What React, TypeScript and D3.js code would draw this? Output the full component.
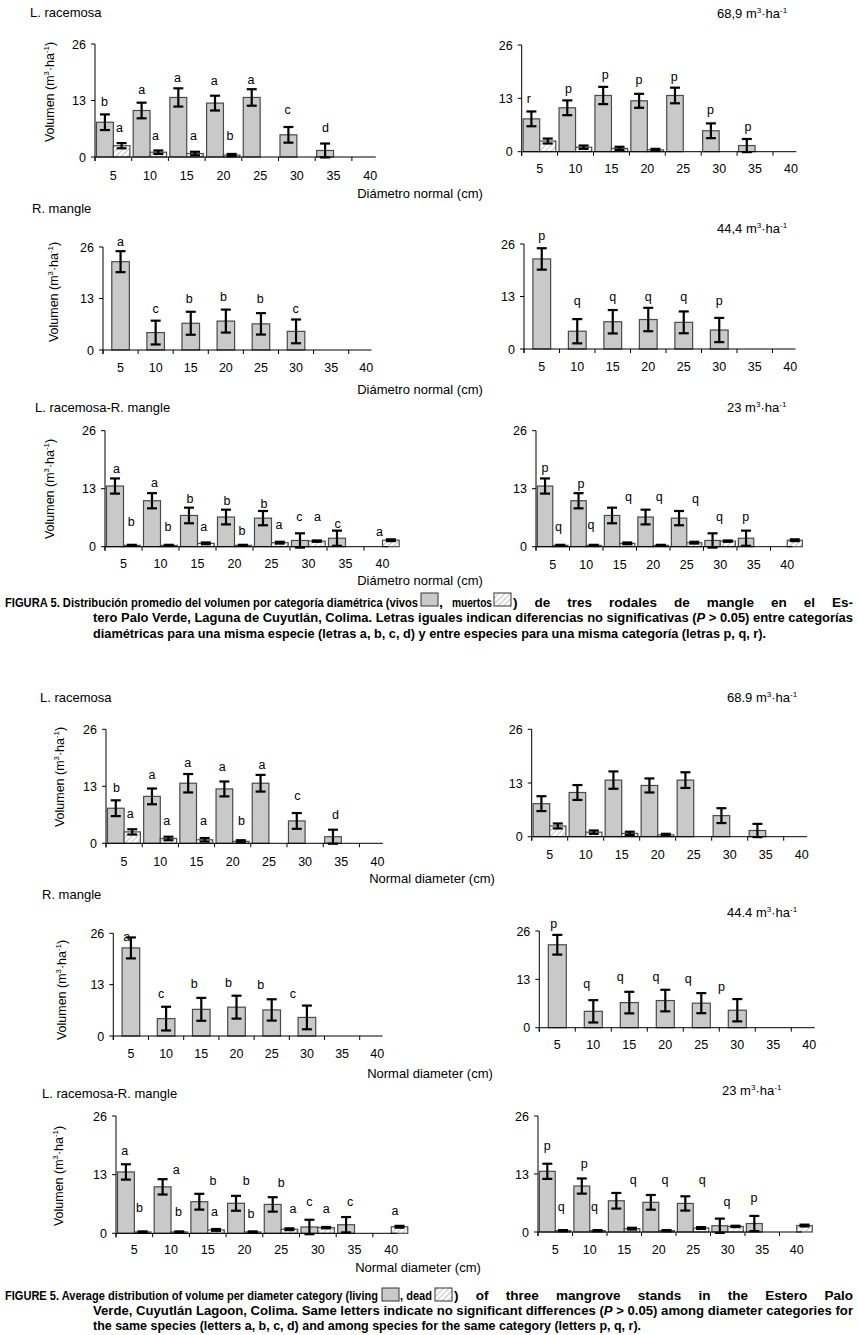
import React, { useLayoutEffect, useRef, useState } from 'react'
import * as d3 from 'd3'

// diameter categories (cm)
const categories = ['5', '10', '15', '20', '25', '30', '35', '40']
const yTicks = [0, 13, 26]

// L. racemosa (m3/ha)
const lrLive = [8.0, 10.7, 13.7, 12.4, 13.7, 5.1, 1.5, null]
const lrLiveErr = [1.8, 1.8, 2.1, 1.7, 1.9, 1.8, 1.6, null]
const lrDead = [2.6, 1.1, 0.8, 0.45, null, null, null, null]
const lrDeadErr = [0.6, 0.4, 0.4, 0.25, null, null, null, null]

// R. mangle
const rmLive = [22.3, 4.4, 6.75, 7.3, 6.6, 4.7, null, null]
const rmLiveErr = [2.65, 3.0, 2.9, 2.9, 2.7, 3.0, null, null]

// L. racemosa-R. mangle
const mxLive = [13.6, 10.3, 7.0, 6.65, 6.4, 1.4, 1.9, null]
const mxLiveErr = [1.7, 1.7, 1.75, 1.65, 1.6, 1.6, 1.7, null]
const mxDead = [0.3, 0.3, 0.75, 0.3, 0.9, 1.25, null, 1.45]
const mxDeadErr = [0.12, 0.12, 0.2, 0.12, 0.2, 0.15, null, 0.2]

// significance letters: [category, place in band, value, letter]
type Letter = [string, number, number, string]

const lettersLrEs: Letter[] = [['5', 0.26, 12.8, 'b'], ['5', 0.67, 6.7, 'a'], ['10', 0.27, 15.5, 'a'], ['10', 0.65, 5.0, 'a'], ['15', 0.25, 18.4, 'a'], ['15', 0.68, 5.0, 'a'], ['20', 0.25, 17.6, 'a'], ['20', 0.68, 5.0, 'b'], ['25', 0.25, 17.8, 'a'], ['30', 0.25, 10.9, 'c'], ['35', 0.28, 6.7, 'd']]
const lettersLrStandEs: Letter[] = [['5', 0.2, 13.0, 'r'], ['10', 0.3, 15.4, 'p'], ['15', 0.33, 18.9, 'p'], ['20', 0.27, 17.7, 'p'], ['25', 0.25, 18.4, 'p'], ['30', 0.26, 10.4, 'p'], ['35', 0.3, 6.1, 'p']]
const lettersRmEs: Letter[] = [['5', 0.5, 27.3, 'a'], ['10', 0.5, 10.5, 'c'], ['15', 0.46, 12.9, 'b'], ['20', 0.43, 13.5, 'b'], ['25', 0.48, 13.1, 'b'], ['30', 0.49, 10.5, 'c']]
const lettersRmStandEs: Letter[] = [['5', 0.5, 28, 'p'], ['10', 0.5, 12.1, 'q'], ['15', 0.5, 13.1, 'q'], ['20', 0.5, 13.1, 'q'], ['25', 0.5, 13.1, 'q'], ['30', 0.5, 12.1, 'p']]
const lettersMxEs: Letter[] = [['5', 0.31, 17.6, 'a'], ['5', 0.71, 5.6, 'b'], ['10', 0.34, 14.3, 'a'], ['10', 0.7, 4.6, 'b'], ['15', 0.3, 10.8, 'b'], ['15', 0.67, 4.6, 'a'], ['20', 0.3, 10.3, 'b'], ['20', 0.7, 3.7, 'b'], ['25', 0.3, 9.6, 'b'], ['25', 0.7, 4.9, 'a'], ['30', 0.25, 6.7, 'c'], ['30', 0.74, 6.7, 'a'], ['35', 0.29, 5.1, 'c'], ['40', 0.42, 3.4, 'a']]
const lettersMxStandEs: Letter[] = [['5', 0.27, 17.8, 'p'], ['5', 0.67, 4.5, 'q'], ['10', 0.34, 14.2, 'p'], ['10', 0.64, 4.9, 'q'], ['15', 0.76, 11.2, 'q'], ['20', 0.68, 11.2, 'q'], ['25', 0.76, 10.8, 'q'], ['30', 0.48, 6.7, 'q'], ['35', 0.26, 6.7, 'p']]

const lettersLrEn: Letter[] = [['5', 0.29, 12.8, 'b'], ['5', 0.67, 6.7, 'a'], ['10', 0.27, 15.6, 'a'], ['10', 0.68, 5.2, 'a'], ['15', 0.26, 18.5, 'a'], ['15', 0.69, 5.2, 'a'], ['20', 0.21, 17.6, 'a'], ['20', 0.74, 5.2, 'b'], ['25', 0.31, 17.9, 'a'], ['30', 0.29, 10.8, 'c'], ['35', 0.34, 6.6, 'd']]
const lettersRmEn: Letter[] = [['5', 0.38, 25.1, 'a'], ['10', 0.36, 10.8, 'c'], ['15', 0.3, 13.2, 'b'], ['20', 0.27, 13.6, 'b'], ['25', 0.19, 13.1, 'b'], ['30', 0.1, 10.8, 'c']]
const lettersRmStandEn: Letter[] = [['5', 0.4, 28.1, 'p'], ['10', 0.32, 11.9, 'q'], ['15', 0.25, 13.7, 'q'], ['20', 0.24, 13.9, 'q'], ['25', 0.14, 13.3, 'q'], ['30', 0.06, 11.2, 'p']]
const lettersMxEn: Letter[] = [['5', 0.24, 18.3, 'a'], ['5', 0.64, 5.8, 'b'], ['10', 0.64, 14.2, 'a'], ['10', 0.7, 4.8, 'b'], ['15', 0.64, 11.7, 'b'], ['15', 0.68, 4.8, 'a'], ['20', 0.55, 11.7, 'b'], ['20', 0.68, 4.4, 'b'], ['25', 0.5, 11.2, 'b'], ['25', 0.82, 5.5, 'a'], ['30', 0.27, 7.0, 'c'], ['30', 0.73, 5.5, 'a'], ['35', 0.38, 7.0, 'c'], ['40', 0.6, 5.0, 'a']]
const lettersMxStandEn: Letter[] = [['5', 0.27, 19.5, 'p'], ['5', 0.67, 5.7, 'q'], ['10', 0.34, 15.4, 'p'], ['10', 0.64, 5.7, 'q'], ['15', 0.76, 11.8, 'q'], ['20', 0.68, 11.8, 'q'], ['25', 0.76, 11.8, 'q'], ['30', 0.48, 6.8, 'q'], ['35', 0.26, 7.7, 'p']]

const FONT = "'Liberation Sans', Arial, sans-serif"
const CAPTION_FONT = "'Liberation Sans Narrow', 'Liberation Sans', Arial, sans-serif"
const LIVE_FILL = '#c9c9c9'
const BAR_STROKE = '#4a4a4a'

type Val = number | null

interface Layout { x: number; y0: number; y26: number; step: number; labelY: number }

interface PanelProps {
  lay: Layout
  live: Val[]
  liveErr: Val[]
  dead?: Val[]
  deadErr?: Val[]
  letters: Letter[]
}

const ErrorBar = ({ cx, v, e, y }: { cx: number; v: number; e: number; y: d3.ScaleLinear<number, number> }) => (
  <g stroke="#000" strokeWidth={2.2}>
    <line x1={cx} x2={cx} y1={y(v - e)} y2={y(v + e)} />
    <line x1={cx - 5} x2={cx + 5} y1={y(v - e)} y2={y(v - e)} />
    <line x1={cx - 5} x2={cx + 5} y1={y(v + e)} y2={y(v + e)} />
  </g>
)

const Panel = ({ lay, live, liveErr, dead, deadErr, letters }: PanelProps) => {
  const x = d3.scaleBand<string>().domain(categories).range([lay.x, lay.x + lay.step * categories.length])
  const y = d3.scaleLinear().domain([0, 26]).range([lay.y0, lay.y26])
  const bw = x.bandwidth()
  const axisEnd = lay.x + bw * 7.65
  const paired = !!dead

  // living bar slot and dead bar slot inside each band
  const liveX = (c: string) => (x(c) as number) + (paired ? 0.04 : 0.25) * bw
  const liveW = (paired ? 0.46 : 0.5) * bw
  const deadX = (c: string) => (x(c) as number) + 0.5 * bw
  const deadW = 0.45 * bw

  return (
    <g fontFamily={FONT}>
      {categories.map((c, i) => {
        const v = live[i]
        if (v == null) return null
        return <rect key={'l' + c} x={liveX(c)} y={y(v)} width={liveW} height={y(0) - y(v)}
          fill={LIVE_FILL} stroke={BAR_STROKE} strokeWidth={1.2} />
      })}
      {dead && categories.map((c, i) => {
        const v = dead[i]
        if (v == null) return null
        return <rect key={'d' + c} x={deadX(c)} y={y(v)} width={deadW} height={y(0) - y(v)}
          fill="url(#hatch)" stroke={BAR_STROKE} strokeWidth={1.2} />
      })}
      {categories.map((c, i) => {
        const v = live[i], e = liveErr[i]
        if (v == null || e == null) return null
        return <ErrorBar key={'le' + c} cx={liveX(c) + liveW / 2} v={v} e={e} y={y} />
      })}
      {dead && deadErr && categories.map((c, i) => {
        const v = dead[i], e = deadErr[i]
        if (v == null || e == null) return null
        return <ErrorBar key={'de' + c} cx={deadX(c) + deadW / 2} v={v} e={e} y={y} />
      })}

      {/* axes */}
      <line x1={lay.x} x2={lay.x} y1={y(26)} y2={y(0) + 4} stroke="#000" strokeWidth={1} />
      <line x1={lay.x} x2={axisEnd} y1={y(0)} y2={y(0)} stroke="#000" strokeWidth={1} />
      {yTicks.map(t => (
        <g key={'yt' + t}>
          <line x1={lay.x - 4} x2={lay.x} y1={y(t)} y2={y(t)} stroke="#000" />
          <text x={lay.x - 9} y={y(t)} dy="0.36em" textAnchor="end" fontSize={12.5}>{t}</text>
        </g>
      ))}
      {categories.map(c => (
        <g key={'xt' + c}>
          <line x1={x(c)} x2={x(c)} y1={y(0)} y2={y(0) + 4} stroke="#000" />
          <text x={(x(c) as number) + bw / 2} y={lay.labelY} dy="0.36em" textAnchor="middle" fontSize={12.5}>{c}</text>
        </g>
      ))}

      {letters.map(([c, f, v, t], i) => (
        <text key={'lt' + i} x={(x(c) as number) + f * bw} y={y(v)} dy="0.36em" textAnchor="middle" fontSize={12.5}>{t}</text>
      ))}
    </g>
  )
}

const Unit = ({ size }: { size: number }) => (
  <>
    m<tspan fontSize={size * 0.62} dy={-size * 0.38}>3</tspan>
    <tspan dy={size * 0.38}>·ha</tspan>
    <tspan fontSize={size * 0.62} dy={-size * 0.38}>-1</tspan>
  </>
)

const YTitle = ({ cx, cy }: { cx: number; cy: number }) => (
  <text transform={`translate(${cx},${cy}) rotate(-90)`} textAnchor="middle" dy="0.36em" fontSize={12.5} fontFamily={FONT}>
    Volumen (<Unit size={12.5} /><tspan dy={12.5 * 0.38}>)</tspan>
  </text>
)

const Label = ({ x, y, size = 13, anchor = 'start', children }: { x: number; y: number; size?: number; anchor?: string; children: React.ReactNode }) => (
  <text x={x} y={y} dy="0.36em" fontSize={size} textAnchor={anchor} fontFamily={FONT}>{children}</text>
)

const Swatch = ({ x, y, dead }: { x: number; y: number; dead?: boolean }) => (
  <rect x={x} y={y} width={17} height={13} fill={dead ? 'url(#hatch)' : LIVE_FILL} stroke="#333" strokeWidth={1} />
)

// caption segment with forced width
const Seg = ({ x, y, w, children }: { x: number; y: number; w: number; children: React.ReactNode }) => (
  <text x={x} y={y} textLength={w} lengthAdjust="spacingAndGlyphs" fontFamily={CAPTION_FONT}
    fontWeight="bold" fontSize={13.5}>{children}</text>
)

// caption segment justified by widening the word gaps
const JustSeg = ({ x, y, w, children }: { x: number; y: number; w: number; children: string }) => {
  const ref = useRef<SVGTextElement>(null)
  const [ws, setWs] = useState(0)
  useLayoutEffect(() => {
    const el = ref.current
    if (!el) return
    const natural = el.getComputedTextLength()
    const gaps = (children.match(/ /g) || []).length
    if (gaps > 0) setWs((w - natural) / gaps)
  }, [])
  return (
    <text ref={ref} x={x} y={y} wordSpacing={ws} fontFamily={CAPTION_FONT} fontWeight="bold" fontSize={13.5}>{children}</text>
  )
}

const lay = {
  esLr: { x: 95, y0: 157, y26: 44, step: 36.7, labelY: 175 },
  esLrR: { x: 521.7, y0: 151.7, y26: 45, step: 35.9, labelY: 168 },
  esRm: { x: 103, y0: 350, y26: 247, step: 35.1, labelY: 367 },
  esRmR: { x: 524, y0: 349, y26: 244, step: 35.5, labelY: 366 },
  esMx: { x: 105, y0: 546.7, y26: 430.7, step: 37, labelY: 563 },
  esMxR: { x: 536, y0: 546.7, y26: 430.7, step: 33.5, labelY: 564 },
  enLr: { x: 106, y0: 843.3, y26: 729.3, step: 36.2, labelY: 861.7 },
  enLrR: { x: 531.7, y0: 836.7, y26: 729.3, step: 36, labelY: 854 },
  enRm: { x: 113.3, y0: 1036, y26: 933.3, step: 35.2, labelY: 1053.3 },
  enRmR: { x: 539.3, y0: 1027.7, y26: 931, step: 36, labelY: 1044.3 },
  enMx: { x: 116, y0: 1233.3, y26: 1116, step: 36.7, labelY: 1249 },
  enMxR: { x: 538, y0: 1232, y26: 1116, step: 34.5, labelY: 1249 },
}

export default function App() {
  return (
    <svg width={859} height={1335} style={{ position: 'absolute', left: 0, top: 0, background: '#fff' }}>
      <defs>
        <pattern id="hatch" patternUnits="userSpaceOnUse" width={4} height={4} patternTransform="rotate(45)">
          <rect width={4} height={4} fill="#fff" />
          <line x1={0} y1={0} x2={0} y2={4} stroke="#b5b5b5" strokeWidth={1.6} />
        </pattern>
      </defs>
      <rect width={859} height={1335} fill="#fff" />

      {/* ---------- Spanish figure ---------- */}
      <Label x={30} y={12}>L. racemosa</Label>
      <Label x={717} y={13}>68,9 <Unit size={13} /></Label>
      <YTitle cx={49} cy={92} />
      <Panel lay={lay.esLr} live={lrLive} liveErr={lrLiveErr} dead={lrDead} deadErr={lrDeadErr} letters={lettersLrEs} />
      <Panel lay={lay.esLrR} live={lrLive} liveErr={lrLiveErr} dead={lrDead} deadErr={lrDeadErr} letters={lettersLrStandEs} />
      <Label x={420} y={193} anchor="middle">Diámetro normal (cm)</Label>

      <Label x={32} y={208}>R. mangle</Label>
      <Label x={717} y={228}>44,4 <Unit size={13} /></Label>
      <YTitle cx={53} cy={292} />
      <Panel lay={lay.esRm} live={rmLive} liveErr={rmLiveErr} letters={lettersRmEs} />
      <Panel lay={lay.esRmR} live={rmLive} liveErr={rmLiveErr} letters={lettersRmStandEs} />
      <Label x={420} y={389} anchor="middle">Diámetro normal (cm)</Label>

      <Label x={35} y={407}>L. racemosa-R. mangle</Label>
      <Label x={727} y={407}>23 <Unit size={13} /></Label>
      <YTitle cx={49} cy={489} />
      <Panel lay={lay.esMx} live={mxLive} liveErr={mxLiveErr} dead={mxDead} deadErr={mxDeadErr} letters={lettersMxEs} />
      <Panel lay={lay.esMxR} live={mxLive} liveErr={mxLiveErr} dead={mxDead} deadErr={mxDeadErr} letters={lettersMxStandEs} />
      <Label x={420} y={580} anchor="middle">Diámetro normal (cm)</Label>

      <Seg x={5} y={606.5} w={413}>FIGURA 5. Distribución promedio del volumen por categoría diamétrica (vivos</Seg>
      <Swatch x={421} y={593} />
      <Seg x={439} y={606.5} w={4}>,</Seg>
      <Seg x={452} y={606.5} w={40}>muertos</Seg>
      <Swatch x={494} y={593} dead />
      <JustSeg x={513} y={606.5} w={340}>) de tres rodales de mangle en el Es-</JustSeg>
      <Seg x={93} y={622} w={760}>tero Palo Verde, Laguna de Cuyutlán, Colima. Letras iguales indican diferencias no significativas (<tspan fontStyle="italic">P</tspan> &gt; 0.05) entre categorías</Seg>
      <Seg x={93} y={637.5} w={673}>diamétricas para una misma especie (letras a, b, c, d) y entre especies para una misma categoría (letras p, q, r).</Seg>

      {/* ---------- English figure ---------- */}
      <Label x={40} y={697}>L. racemosa</Label>
      <Label x={727} y={697}>68.9 <Unit size={13} /></Label>
      <YTitle cx={59} cy={777} />
      <Panel lay={lay.enLr} live={lrLive} liveErr={lrLiveErr} dead={lrDead} deadErr={lrDeadErr} letters={lettersLrEn} />
      <Panel lay={lay.enLrR} live={lrLive} liveErr={lrLiveErr} dead={lrDead} deadErr={lrDeadErr} letters={[]} />
      <Label x={432} y={878} anchor="middle">Normal diameter (cm)</Label>

      <Label x={42} y={894}>R. mangle</Label>
      <Label x={727} y={912}>44.4 <Unit size={13} /></Label>
      <YTitle cx={61} cy={990} />
      <Panel lay={lay.enRm} live={rmLive} liveErr={rmLiveErr} letters={lettersRmEn} />
      <Panel lay={lay.enRmR} live={rmLive} liveErr={rmLiveErr} letters={lettersRmStandEn} />
      <Label x={430} y={1073} anchor="middle">Normal diameter (cm)</Label>

      <Label x={42} y={1093}>L. racemosa-R. mangle</Label>
      <Label x={722} y={1090}>23 <Unit size={13} /></Label>
      <YTitle cx={58} cy={1176} />
      <Panel lay={lay.enMx} live={mxLive} liveErr={mxLiveErr} dead={mxDead} deadErr={mxDeadErr} letters={lettersMxEn} />
      <Panel lay={lay.enMxR} live={mxLive} liveErr={mxLiveErr} dead={mxDead} deadErr={mxDeadErr} letters={lettersMxStandEn} />
      <Label x={418} y={1267} anchor="middle">Normal diameter (cm)</Label>

      <Seg x={5} y={1299.5} w={373}>FIGURE 5. Average distribution of volume per diameter category (living</Seg>
      <Swatch x={382} y={1288} />
      <Seg x={400} y={1299.5} w={32}>, dead</Seg>
      <Swatch x={435} y={1288} dead />
      <JustSeg x={454} y={1299.5} w={399}>) of three mangrove stands in the Estero Palo</JustSeg>
      <Seg x={93} y={1314.5} w={760}>Verde, Cuyutlán Lagoon, Colima. Same letters indicate no significant differences (<tspan fontStyle="italic">P</tspan> &gt; 0.05) among diameter categories for</Seg>
      <Seg x={93} y={1330} w={548}>the same species (letters a, b, c, d) and among species for the same category (letters p, q, r).</Seg>
    </svg>
  )
}
